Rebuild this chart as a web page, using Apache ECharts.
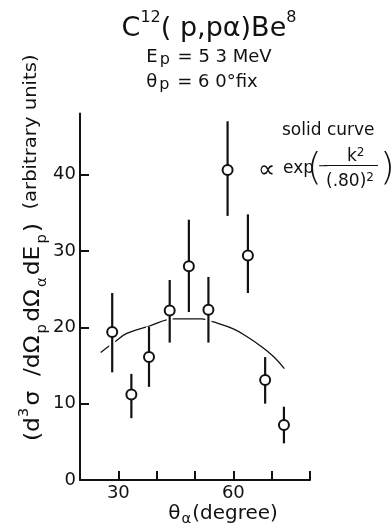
<!DOCTYPE html>
<html>
<head>
<meta charset="utf-8">
<script src="https://cdn.jsdelivr.net/npm/echarts@6/dist/echarts.min.js"></script>
<style>
  html, body { margin: 0; padding: 0; background: #fff; }
  #chart { width: 392px; height: 526px; }
</style>
</head>
<body>
<div id="chart"></div>
<script>
// Alpha emission angle (degrees) and measured yield with error limits
const angles   = [28.4, 33.4, 38.0, 43.4, 48.4, 53.5, 58.5, 63.8, 68.3, 73.2];
const yields   = [19.4, 11.2, 16.1, 22.2, 28.0, 22.3, 40.6, 29.4, 13.1, 7.2];
const errLow   = [14.1,  8.1, 12.2, 18.0, 22.0, 18.0, 34.6, 24.5, 10.0, 4.8];
const errHigh  = [24.5, 13.9, 20.1, 26.2, 34.1, 26.6, 47.0, 34.8, 16.1, 9.6];

// Solid curve, proportional to exp(-k^2 / (.80)^2)
const curveAngles = [25.4, 29.1, 32.2, 38.3, 44.4, 48.7, 51.7, 54.8, 60.0, 63.5, 67.0, 70.4, 73.3];
const curveValues = [16.7, 18.1, 19.2, 20.2, 21.1, 21.1, 21.1, 20.7, 19.8, 18.8, 17.6, 16.2, 14.6];

// Axis ticks and labels
const xTicks = [30, 40, 50, 60, 70, 80];
const xLabels = [30, 60];
const yTicks = [10, 20, 30, 40];
const yLabels = [0, 10, 20, 30, 40];

const FONT = 'DejaVu Sans';
const INK = '#111';

const chart = echarts.init(document.getElementById('chart'), null, { renderer: 'canvas' });

function txt(x, y, text, opts) {
  const o = opts || {};
  return {
    type: 'text',
    x: x, y: y,
    rotation: o.rotation || 0,
    scaleX: o.scaleX || 1,
    silent: true,
    style: {
      text: text,
      x: 0, y: 0,
      fill: INK,
      fontFamily: FONT,
      fontSize: o.fontSize || 16,
      fontWeight: o.fontWeight || 'normal',
      align: o.align || 'left',
      textAlign: o.align || 'left',
      verticalAlign: o.vAlign || 'middle',
      textVerticalAlign: o.vAlign || 'middle',
      rich: o.rich
    }
  };
}

// Rich styles: normal text plus raised / lowered smaller tokens
function richSet(main, small, lh, shift, gap) {
  const g = gap || 0;
  return {
    n:   { fontFamily: FONT, fontSize: main, lineHeight: lh, fill: INK },
    sup: { fontFamily: FONT, fontSize: small, lineHeight: lh - 2 * shift, verticalAlign: 'top', fill: INK, padding: [0, g, 0, 0] },
    sub: { fontFamily: FONT, fontSize: small, lineHeight: lh - 2 * shift, verticalAlign: 'bottom', fill: INK, padding: [0, g, 0, g] }
  };
}

const option = {
  animation: false,
  backgroundColor: '#fff',
  grid: { left: 80, width: 230, top: 113.6, height: 366.4, containLabel: false },
  xAxis: {
    type: 'value',
    min: 20, max: 80,
    axisLine: { show: true, onZero: false, lineStyle: { color: INK, width: 2 } },
    axisTick: { show: true, inside: true, length: 9, lineStyle: { color: INK, width: 2 }, customValues: xTicks },
    axisLabel: { show: true, margin: 4, color: INK, fontFamily: FONT, fontSize: 18, customValues: xLabels },
    splitLine: { show: false }
  },
  yAxis: {
    type: 'value',
    min: 0, max: 48,
    axisLine: { show: true, lineStyle: { color: INK, width: 2 } },
    axisTick: { show: true, inside: true, length: 9, lineStyle: { color: INK, width: 2 }, customValues: yTicks },
    axisLabel: { show: true, margin: 4, color: INK, fontFamily: FONT, fontSize: 18, customValues: yLabels },
    splitLine: { show: false }
  },
  series: [
    {
      type: 'line',
      data: curveAngles.map((a, i) => [a, curveValues[i]]),
      smooth: 0.4,
      symbol: 'none',
      lineStyle: { color: INK, width: 1.3 },
      z: 1
    },
    {
      type: 'custom',
      data: angles.map((a, i) => [a, errLow[i], errHigh[i]]),
      encode: { x: 0, y: [1, 2] },
      renderItem: function (params, api) {
        const lo = api.coord([api.value(0), api.value(1)]);
        const hi = api.coord([api.value(0), api.value(2)]);
        const shape = { x1: lo[0], y1: lo[1], x2: hi[0], y2: hi[1] };
        return {
          type: 'group',
          children: [
            { type: 'line', shape: shape, style: { stroke: '#fff', lineWidth: 6, lineCap: 'butt' } },
            { type: 'line', shape: shape, style: { stroke: INK, lineWidth: 2.2, lineCap: 'butt' } }
          ]
        };
      },
      z: 2
    },
    {
      type: 'scatter',
      data: angles.map((a, i) => [a, yields[i]]),
      symbol: 'circle',
      symbolSize: 10,
      itemStyle: { color: '#fff', borderColor: INK, borderWidth: 2, opacity: 1 },
      z: 3
    }
  ],
  graphic: {
    elements: [
      // Reaction title
      txt(209, 10, '{n|C}{sup|12}{n|( p,pα)Be}{sup|8}', {
        align: 'center', vAlign: 'top', rich: richSet(27, 16, 38, 9)
      }),
      txt(209, 46, '{n|E}{sub|p}{n| = 5 3 MeV}', {
        align: 'center', vAlign: 'top', rich: richSet(18, 16, 22, 3, 2)
      }),
      txt(202, 71, '{n|θ}{sub|p}{n| = 6 0°fix}', {
        align: 'center', vAlign: 'top', rich: richSet(18, 16, 22, 3, 2)
      }),
      // Curve annotation
      txt(282, 131, 'solid curve', { fontSize: 17 }),
      txt(258, 171, '∝', { fontSize: 24 }),
      txt(283, 169, 'exp', { fontSize: 17 }),
      txt(307, 169, '(', { fontSize: 38, fontWeight: 'lighter' }),
      txt(318, 167, '−', { fontSize: 13 }),
      txt(347, 157, '{n|k}{sup|2}', { rich: richSet(17, 12, 20, 4) }),
      {
        type: 'line', silent: true,
        shape: { x1: 324, y1: 165.5, x2: 378, y2: 165.5 },
        style: { stroke: INK, lineWidth: 1 }
      },
      txt(326, 182, '{n|(.80)}{sup|2}', { rich: richSet(17, 12, 20, 4) }),
      txt(380, 169, ')', { fontSize: 38, fontWeight: 'lighter' }),
      // Axis titles
      txt(223, 514, '{n|θ}{sub|α}{n|(degree)}', {
        align: 'center', scaleX: 1.05, rich: richSet(19, 14, 24, 4, 1)
      }),
      txt(33, 332, '{n|(d}{sup|3}{n|σ  /dΩ}{sub|p}{n|dΩ}{sub|α}{n|dE}{sub|p}{n|)}', {
        align: 'center', rotation: Math.PI / 2, scaleX: 1.06, rich: richSet(22, 14, 32, 7, 2)
      }),
      txt(31, 132, '(arbitrary units)', {
        align: 'center', rotation: Math.PI / 2, scaleX: 1.09, fontSize: 18
      })
    ]
  }
};

chart.setOption(option);
</script>
</body>
</html>
